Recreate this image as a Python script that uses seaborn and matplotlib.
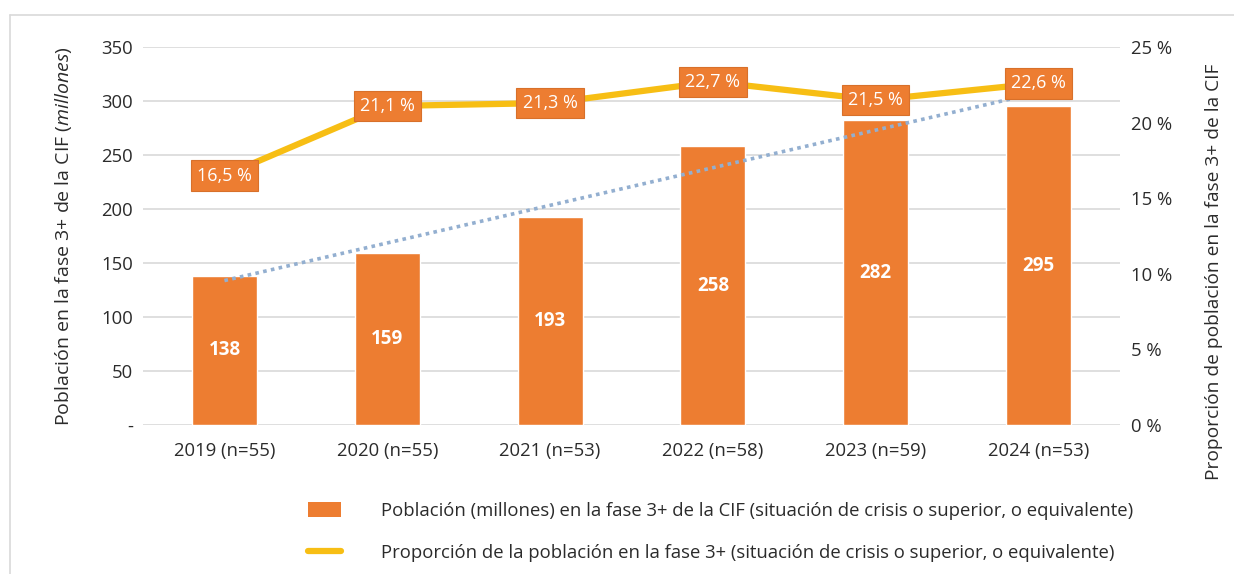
import numpy as np
import pandas as pd
import seaborn as sns
import matplotlib.pyplot as plt
from matplotlib.patches import Patch
from matplotlib.lines import Line2D

# data
years = ['2019 (n=55)', '2020 (n=55)', '2021 (n=53)', '2022 (n=58)', '2023 (n=59)', '2024 (n=53)']
pop_millions = [138, 159, 193, 258, 282, 295]
share_pct = [16.5, 21.1, 21.3, 22.7, 21.5, 22.6]
share_labels = ['16,5 %', '21,1 %', '21,3 %', '22,7 %', '21,5 %', '22,6 %']

left_ticks = [0, 50, 100, 150, 200, 250, 300, 350]
left_ticklabels = ['-', '50', '100', '150', '200', '250', '300', '350']
right_ticks = [0, 5, 10, 15, 20, 25]
right_ticklabels = ['0 %', '5 %', '10 %', '15 %', '20 %', '25 %']

bar_label = 'Población (millones) en la fase 3+ de la CIF (situación de crisis o superior, o equivalente)'
line_label = 'Proporción de la población en la fase 3+ (situación de crisis o superior, o equivalente)'

orange = '#ED7D31'
yellow = '#F7BE14'
trend_blue = '#93AFD0'
text_col = '#2b2b2b'
fs = 13.3

sns.set_style('white')
plt.rcParams['font.family'] = ['Open Sans', 'DejaVu Sans']
plt.rcParams['mathtext.fontset'] = 'custom'
plt.rcParams['mathtext.rm'] = 'Open Sans'
plt.rcParams['mathtext.it'] = 'Open Sans:italic'

df = pd.DataFrame({'year': years, 'pop': pop_millions, 'share': share_pct, 'pos': np.arange(len(years))})

fig, ax = plt.subplots(figsize=(12.34, 5.74), dpi=100)
fig.subplots_adjust(left=0.1159, right=0.9076, top=0.918, bottom=0.2596)

sns.barplot(data=df, x='year', y='pop', color=orange, width=0.4, saturation=1, ax=ax, zorder=2)

# linear trend of the bars
sns.regplot(data=df, x='pos', y='pop', ci=None, scatter=False, truncate=True, ax=ax,
            line_kws=dict(color=trend_blue, ls=(0, (1, 1.2)), lw=2.6, zorder=3))

for i, v in enumerate(pop_millions):
    ax.text(i, v / 2, str(v), ha='center', va='center', color='white',
            fontsize=13.5, fontweight='bold', zorder=4)

ax.set_xlim(-0.5, len(years) - 0.5)
ax.set_ylim(0, 350)
ax.set_yticks(left_ticks)
ax.set_yticklabels(left_ticklabels)
ax.set_xticks(range(len(years)))
ax.set_xticklabels(years)
ax.tick_params(axis='both', length=0, labelsize=fs, colors=text_col)
ax.tick_params(axis='x', pad=12)
ax.tick_params(axis='y', pad=7)
ax.grid(axis='y', color='#d9d9d9', lw=1.2, zorder=0)
ax.set_axisbelow(True)
ax.set_xlabel('')
ax.set_ylabel('Población en la fase 3+ de la CIF ' + r'$\it{(millones)}$',
              fontsize=14, color=text_col, labelpad=20)
for s in ax.spines.values():
    s.set_visible(False)

ax2 = ax.twinx()
sns.lineplot(data=df, x='pos', y='share', color=yellow, lw=4.5, ax=ax2)
for i, (v, lab) in enumerate(zip(share_pct, share_labels)):
    ax2.text(i, v, lab, ha='center', va='center', color='white', fontsize=13,
             bbox=dict(boxstyle='square,pad=0.35', fc=orange, ec='#d8702a', lw=0.8))
ax2.set_ylim(0, 25)
ax2.set_yticks(right_ticks)
ax2.set_yticklabels(right_ticklabels)
ax2.tick_params(axis='y', length=0, labelsize=fs, colors=text_col, pad=8)
ax2.set_xlabel('')
ax2.set_ylabel('Proporción de población en la fase 3+ de la CIF', fontsize=13.8,
               color=text_col)
ax2.yaxis.set_label_coords(1.087, 0.405)
ax2.grid(False)
for s in ax2.spines.values():
    s.set_visible(False)
ax2.set_xlim(-0.5, len(years) - 0.5)

handles = [Patch(facecolor=orange, edgecolor='none'),
           Line2D([0], [0], color=yellow, lw=4.5)]
fig.legend(handles, [bar_label, line_label], loc='upper left',
           bbox_to_anchor=(0.244, 0.139), frameon=False, fontsize=fs,
           handlelength=1.75, handleheight=0.85, handletextpad=2.15, labelspacing=1.3,
           labelcolor=text_col, borderaxespad=0)

# thin frame at top and left of the figure
fig.add_artist(Line2D([0.008, 1], [0.974, 0.974], transform=fig.transFigure, color='#d9d9d9', lw=1.2))
fig.add_artist(Line2D([0.008, 0.008], [0, 0.974], transform=fig.transFigure, color='#d9d9d9', lw=1.2))

fig.savefig('out.png', dpi=100)
